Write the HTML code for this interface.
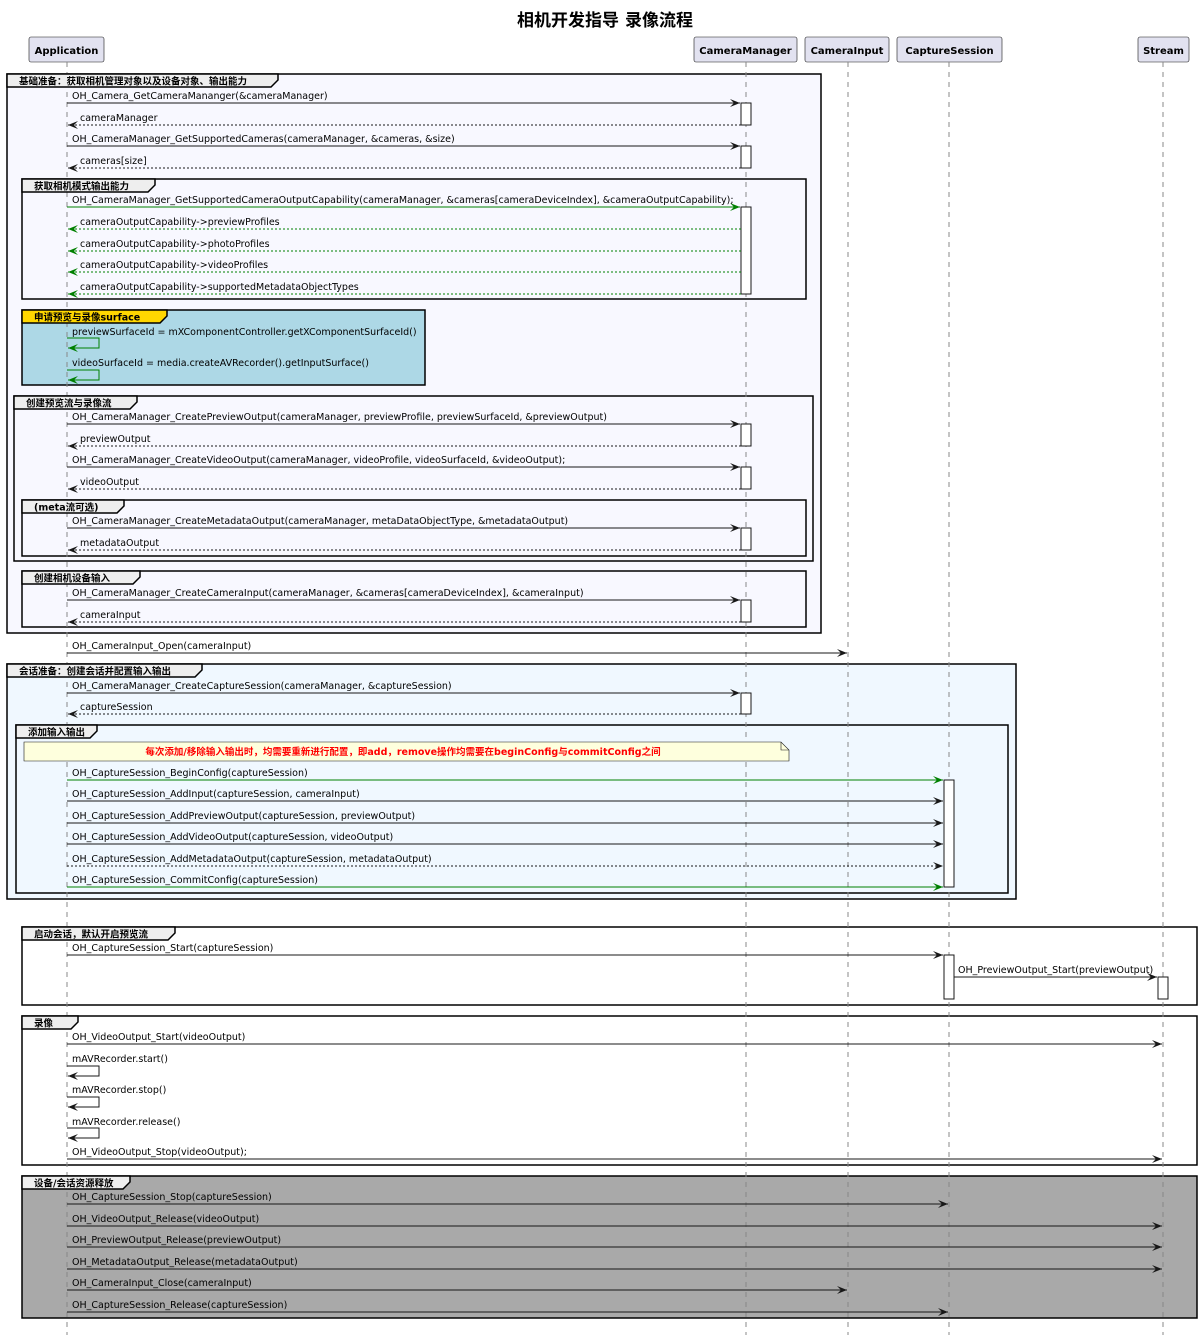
<!DOCTYPE html>
<html><head><meta charset="utf-8"><style>
html,body{margin:0;padding:0;background:#fff}
svg{display:block}
text{font-family:"DejaVu Sans","Liberation Sans","Noto Sans CJK SC",sans-serif;font-size:9.5px;fill:#000}
.b{font-weight:bold}
.pl{font-weight:bold;font-size:10px}
.tab{font-weight:bold;font-size:9.5px}
.ll{stroke:#888;stroke-width:1;stroke-dasharray:5,5}
.m{stroke:#181818;stroke-width:1;fill:none;marker-end:url(#ab)}
.d{stroke:#181818;stroke-width:1;fill:none;stroke-dasharray:2,2;marker-end:url(#ab)}
.g{stroke:#008000;stroke-width:1;fill:none;marker-end:url(#ag)}
.gd{stroke:#008000;stroke-width:1;fill:none;stroke-dasharray:2,2;marker-end:url(#ag)}
.act{fill:#fff;stroke:#181818;stroke-width:1}
.grp{stroke:#000;stroke-width:1.5}
.tb{fill:#EEEEEE;stroke:#000;stroke-width:1.5}
.p{fill:#E2E2F0;stroke:#181818;stroke-width:0.6}
</style></head><body>
<svg width="1200" height="1335" viewBox="0 0 1200 1335" xmlns="http://www.w3.org/2000/svg">
<defs>
<marker id="ab" markerUnits="userSpaceOnUse" markerWidth="11" markerHeight="9" refX="10" refY="4" orient="auto"><path d="M0,0 L10,4 L0,8 L4,4 Z" fill="#181818"/></marker>
<marker id="ag" markerUnits="userSpaceOnUse" markerWidth="11" markerHeight="9" refX="10" refY="4" orient="auto"><path d="M0,0 L10,4 L0,8 L4,4 Z" fill="#008000"/></marker>
</defs>
<text x="605" y="26" text-anchor="middle" class="b" style="font-size:17px">相机开发指导 录像流程</text>

<rect class="p" x="29" y="37" width="75" height="25" rx="2"/><text x="66.5" y="54" text-anchor="middle" class="pl">Application</text>
<rect class="p" x="694" y="37" width="103" height="25" rx="2"/><text x="745.5" y="54" text-anchor="middle" class="pl">CameraManager</text>
<rect class="p" x="805" y="37" width="84" height="25" rx="2"/><text x="847" y="54" text-anchor="middle" class="pl">CameraInput</text>
<rect class="p" x="897" y="37" width="105" height="25" rx="2"/><text x="949.5" y="54" text-anchor="middle" class="pl">CaptureSession</text>
<rect class="p" x="1138" y="37" width="51" height="25" rx="2"/><text x="1163.5" y="54" text-anchor="middle" class="pl">Stream</text>

<rect class="grp" x="7" y="74" width="814" height="559" fill="#F8F8FF"/>
<rect class="grp" x="22" y="179" width="784" height="120" fill="none"/>
<rect class="grp" x="22" y="310" width="403" height="75" fill="#ADD8E6"/>
<rect class="grp" x="14" y="396" width="799" height="165" fill="none"/>
<rect class="grp" x="22" y="500" width="784" height="56" fill="none"/>
<rect class="grp" x="22" y="571" width="784" height="56" fill="none"/>
<rect class="grp" x="7" y="664" width="1009" height="235" fill="#F0F8FF"/>
<rect class="grp" x="16" y="725" width="992" height="168" fill="none"/>
<rect class="grp" x="22" y="927" width="1175" height="78" fill="none"/>
<rect class="grp" x="22" y="1016" width="1175" height="149" fill="none"/>
<rect class="grp" x="22" y="1176" width="1175" height="142" fill="#A9A9A9"/>

<line class="ll" x1="67" y1="62" x2="67" y2="1335"/>
<line class="ll" x1="746" y1="62" x2="746" y2="1335"/>
<line class="ll" x1="848" y1="62" x2="848" y2="1335"/>
<line class="ll" x1="949" y1="62" x2="949" y2="1335"/>
<line class="ll" x1="1163" y1="62" x2="1163" y2="1335"/>

<path class="tb" d="M7,74 H278 V80 L271,87 H7 Z"/><text class="tab" x="19" y="84.5">基础准备：获取相机管理对象以及设备对象、输出能力</text>
<path class="tb" d="M22,179 H155 V185 L148,192 H22 Z"/><text class="tab" x="34" y="189.5">获取相机模式输出能力</text>
<path class="tb" d="M22,310 H167 V316 L160,323 H22 Z" style="fill:#FFD700"/><text class="tab" x="34" y="320.5">申请预览与录像surface</text>
<path class="tb" d="M14,396 H137 V402 L130,409 H14 Z"/><text class="tab" x="26" y="406.5">创建预览流与录像流</text>
<path class="tb" d="M22,500 H124 V506 L117,513 H22 Z"/><text class="tab" x="34" y="510.5">(meta流可选)</text>
<path class="tb" d="M22,571 H140 V577 L133,584 H22 Z"/><text class="tab" x="34" y="581.5">创建相机设备输入</text>
<path class="tb" d="M7,664 H202 V670 L195,677 H7 Z"/><text class="tab" x="19" y="674.5">会话准备：创建会话并配置输入输出</text>
<path class="tb" d="M16,725 H97 V731 L90,738 H16 Z"/><text class="tab" x="28" y="735.5">添加输入输出</text>
<path class="tb" d="M22,927 H175 V933 L168,940 H22 Z"/><text class="tab" x="34" y="937.5">启动会话，默认开启预览流</text>
<path class="tb" d="M22,1016 H78 V1022 L71,1029 H22 Z"/><text class="tab" x="34" y="1026.5">录像</text>
<path class="tb" d="M22,1176 H130 V1182 L123,1189 H22 Z"/><text class="tab" x="34" y="1186.5">设备/会话资源释放</text>

<rect class="act" x="741" y="103" width="10" height="22"/>
<rect class="act" x="741" y="146" width="10" height="22"/>
<rect class="act" x="741" y="207" width="10" height="87"/>
<rect class="act" x="741" y="424" width="10" height="22"/>
<rect class="act" x="741" y="467" width="10" height="22"/>
<rect class="act" x="741" y="528" width="10" height="22"/>
<rect class="act" x="741" y="600" width="10" height="22"/>
<rect class="act" x="741" y="693" width="10" height="21"/>
<rect class="act" x="944" y="780" width="10" height="107"/>
<rect class="act" x="944" y="955" width="10" height="44"/>
<rect class="act" x="1158" y="977" width="10" height="22"/>

<line class="m" x1="67" y1="103" x2="740" y2="103"/><text x="72" y="99">OH_Camera_GetCameraMananger(&amp;cameraManager)</text>
<line class="d" x1="741" y1="125" x2="68" y2="125"/><text x="80" y="121">cameraManager</text>
<line class="m" x1="67" y1="146" x2="740" y2="146"/><text x="72" y="142">OH_CameraManager_GetSupportedCameras(cameraManager, &amp;cameras, &amp;size)</text>
<line class="d" x1="741" y1="168" x2="68" y2="168"/><text x="80" y="164">cameras[size]</text>
<line class="g" x1="67" y1="207" x2="740" y2="207"/><text x="72" y="203">OH_CameraManager_GetSupportedCameraOutputCapability(cameraManager, &amp;cameras[cameraDeviceIndex], &amp;cameraOutputCapability);</text>
<line class="gd" x1="741" y1="229" x2="68" y2="229"/><text x="80" y="225">cameraOutputCapability-&gt;previewProfiles</text>
<line class="gd" x1="741" y1="251" x2="68" y2="251"/><text x="80" y="247">cameraOutputCapability-&gt;photoProfiles</text>
<line class="gd" x1="741" y1="272" x2="68" y2="272"/><text x="80" y="268">cameraOutputCapability-&gt;videoProfiles</text>
<line class="gd" x1="741" y1="294" x2="68" y2="294"/><text x="80" y="290">cameraOutputCapability-&gt;supportedMetadataObjectTypes</text>

<text x="72" y="335">previewSurfaceId = mXComponentController.getXComponentSurfaceId()</text>
<polyline class="g" points="67,338 99,338 99,348 68,348"/>
<text x="72" y="366">videoSurfaceId = media.createAVRecorder().getInputSurface()</text>
<polyline class="g" points="67,370 99,370 99,380 68,380"/>

<line class="m" x1="67" y1="424" x2="740" y2="424"/><text x="72" y="420">OH_CameraManager_CreatePreviewOutput(cameraManager, previewProfile, previewSurfaceId, &amp;previewOutput)</text>
<line class="d" x1="741" y1="446" x2="68" y2="446"/><text x="80" y="442">previewOutput</text>
<line class="m" x1="67" y1="467" x2="740" y2="467"/><text x="72" y="463">OH_CameraManager_CreateVideoOutput(cameraManager, videoProfile, videoSurfaceId, &amp;videoOutput);</text>
<line class="d" x1="741" y1="489" x2="68" y2="489"/><text x="80" y="485">videoOutput</text>
<line class="m" x1="67" y1="528" x2="740" y2="528"/><text x="72" y="524">OH_CameraManager_CreateMetadataOutput(cameraManager, metaDataObjectType, &amp;metadataOutput)</text>
<line class="d" x1="741" y1="550" x2="68" y2="550"/><text x="80" y="546">metadataOutput</text>
<line class="m" x1="67" y1="600" x2="740" y2="600"/><text x="72" y="596">OH_CameraManager_CreateCameraInput(cameraManager, &amp;cameras[cameraDeviceIndex], &amp;cameraInput)</text>
<line class="d" x1="741" y1="622" x2="68" y2="622"/><text x="80" y="618">cameraInput</text>

<line class="m" x1="67" y1="653" x2="847" y2="653"/><text x="72" y="649">OH_CameraInput_Open(cameraInput)</text>

<line class="m" x1="67" y1="693" x2="740" y2="693"/><text x="72" y="689">OH_CameraManager_CreateCaptureSession(cameraManager, &amp;captureSession)</text>
<line class="d" x1="741" y1="714" x2="68" y2="714"/><text x="80" y="710">captureSession</text>
<path d="M24,742 H781 L789,750 V761 H24 Z" fill="#FEFFDD" stroke="#181818" stroke-width="0.6"/>
<path d="M781,742 V750 H789" fill="none" stroke="#181818" stroke-width="0.6"/>
<text x="403" y="755" text-anchor="middle" class="b" style="fill:#FF0000;font-size:9.5px">每次添加/移除输入输出时，均需要重新进行配置，即add，remove操作均需要在beginConfig与commitConfig之间</text>
<line class="g" x1="67" y1="780" x2="943" y2="780"/><text x="72" y="776">OH_CaptureSession_BeginConfig(captureSession)</text>
<line class="m" x1="67" y1="801" x2="943" y2="801"/><text x="72" y="797">OH_CaptureSession_AddInput(captureSession, cameraInput)</text>
<line class="m" x1="67" y1="823" x2="943" y2="823"/><text x="72" y="819">OH_CaptureSession_AddPreviewOutput(captureSession, previewOutput)</text>
<line class="m" x1="67" y1="844" x2="943" y2="844"/><text x="72" y="840">OH_CaptureSession_AddVideoOutput(captureSession, videoOutput)</text>
<line class="d" x1="67" y1="866" x2="943" y2="866"/><text x="72" y="862">OH_CaptureSession_AddMetadataOutput(captureSession, metadataOutput)</text>
<line class="g" x1="67" y1="887" x2="943" y2="887"/><text x="72" y="883">OH_CaptureSession_CommitConfig(captureSession)</text>

<line class="m" x1="67" y1="955" x2="943" y2="955"/><text x="72" y="951">OH_CaptureSession_Start(captureSession)</text>
<line class="m" x1="954" y1="977" x2="1157" y2="977"/><text x="958" y="973">OH_PreviewOutput_Start(previewOutput)</text>

<line class="m" x1="67" y1="1044" x2="1162" y2="1044"/><text x="72" y="1040">OH_VideoOutput_Start(videoOutput)</text>
<text x="72" y="1062">mAVRecorder.start()</text>
<polyline class="m" points="67,1066 99,1066 99,1076 68,1076"/>
<text x="72" y="1093">mAVRecorder.stop()</text>
<polyline class="m" points="67,1097 99,1097 99,1107 68,1107"/>
<text x="72" y="1125">mAVRecorder.release()</text>
<polyline class="m" points="67,1128 99,1128 99,1138 68,1138"/>
<line class="m" x1="67" y1="1159" x2="1162" y2="1159"/><text x="72" y="1155">OH_VideoOutput_Stop(videoOutput);</text>

<line class="m" x1="67" y1="1204" x2="948" y2="1204"/><text x="72" y="1200">OH_CaptureSession_Stop(captureSession)</text>
<line class="m" x1="67" y1="1226" x2="1162" y2="1226"/><text x="72" y="1222">OH_VideoOutput_Release(videoOutput)</text>
<line class="m" x1="67" y1="1247" x2="1162" y2="1247"/><text x="72" y="1243">OH_PreviewOutput_Release(previewOutput)</text>
<line class="m" x1="67" y1="1269" x2="1162" y2="1269"/><text x="72" y="1265">OH_MetadataOutput_Release(metadataOutput)</text>
<line class="m" x1="67" y1="1290" x2="847" y2="1290"/><text x="72" y="1286">OH_CameraInput_Close(cameraInput)</text>
<line class="m" x1="67" y1="1312" x2="948" y2="1312"/><text x="72" y="1308">OH_CaptureSession_Release(captureSession)</text>
</svg>
</body></html>
